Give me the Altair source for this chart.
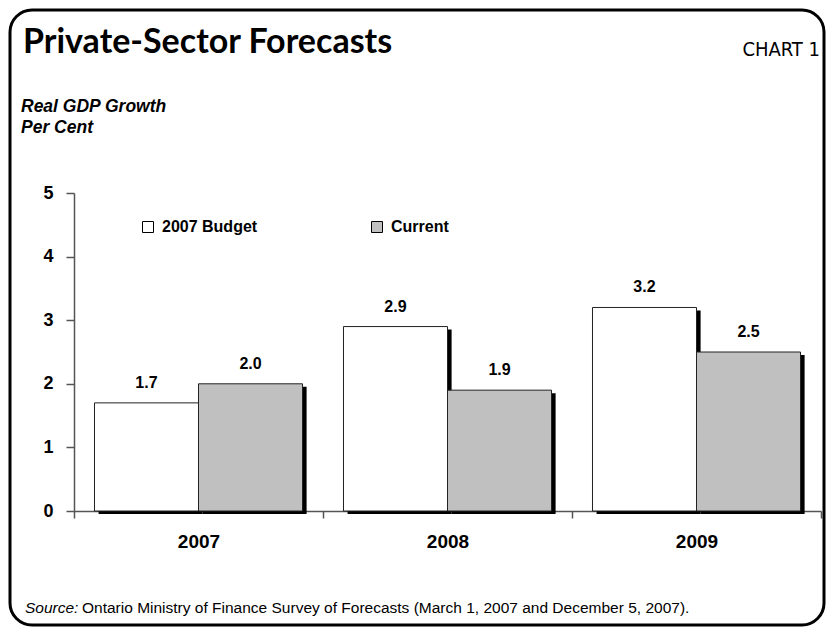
import altair as alt
import pandas as pd

# ---- data ----
years = ["2007", "2008", "2009"]
budget_2007 = [1.7, 2.9, 3.2]
current = [2.0, 1.9, 2.5]
series_names = ["2007 Budget", "Current"]
series_fills = ["white", "#C0C0C0"]
y_ticks = [0, 1, 2, 3, 4, 5]

title_text = ["Private-Sector Forecasts"]
chart_no = ["CHART 1"]
ylabel_lines = ["Real GDP Growth", "Per Cent"]
source_head = ["Source:"]
source_body = ["Ontario Ministry of Finance Survey of Forecasts (March 1, 2007 and December 5, 2007)."]

rows = []
for i, yr in enumerate(years):
    rows.append({"year": yr, "series": series_names[0], "value": budget_2007[i]})
    rows.append({"year": yr, "series": series_names[1], "value": current[i]})
df = pd.DataFrame(rows)

FONT = "Liberation Sans, Arial, sans-serif"

x_enc = alt.X("year:N", sort=years,
              scale=alt.Scale(type="band", paddingInner=0, paddingOuter=0),
              axis=alt.Axis(title=None, labelAngle=0, tickBand="extent", tickSize=7,
                            labelPadding=14, labelFont=FONT, labelFontSize=19,
                            labelFontWeight="bold", labelColor="black",
                            domainColor="#555", domainWidth=1.5,
                            tickColor="#555", tickWidth=1.5))
xo_enc = alt.XOffset("series:N", sort=series_names,
                     scale=alt.Scale(type="band", paddingInner=0, paddingOuter=0.197))
# shadow offset scale: same step, shifted right by a few pixels via align
xo_shadow = alt.XOffset("series:N", sort=series_names,
                        scale=alt.Scale(type="band", paddingInner=0, paddingOuter=0.197, align=0.6))
y_enc = alt.Y("value:Q", scale=alt.Scale(domain=[0, 5], nice=False),
              axis=alt.Axis(title=None, values=y_ticks, tickSize=8, labelPadding=13,
                            labelFont=FONT, labelFontSize=18, labelFontWeight="bold",
                            labelColor="black", domainColor="#555", domainWidth=1.5,
                            tickColor="#555", tickWidth=1.5, grid=False))

base = alt.Chart(df)

shadow = base.mark_bar(color="black", yOffset=3).encode(
    x=x_enc, xOffset=xo_shadow, y=y_enc)

bars = base.mark_bar(stroke="#222", strokeWidth=1).encode(
    x=x_enc, xOffset=xo_enc, y=y_enc,
    fill=alt.Fill("series:N", sort=series_names,
                  scale=alt.Scale(domain=series_names, range=series_fills),
                  legend=alt.Legend(title=None, orient="none", legendX=66, legendY=26,
                                    direction="horizontal", symbolType="square",
                                    symbolSize=121, symbolStrokeColor="black",
                                    symbolStrokeWidth=1, labelFont=FONT,
                                    labelFontSize=16, labelFontWeight="bold",
                                    labelColor="black", labelOffset=6,
                                    columnPadding=111)))

labels = base.mark_text(font=FONT, fontSize=16, fontWeight="bold", baseline="alphabetic",
                        dy=-15, color="black").encode(
    x=x_enc, xOffset=xo_enc, y=y_enc, text=alt.Text("value:Q", format=".1f"))

frame = alt.Chart(pd.DataFrame({"k": [0]})).mark_rect(
    fill="transparent", stroke="black", strokeWidth=3, cornerRadius=22).encode(
    x=alt.value(-64), x2=alt.value(750), y=alt.value(-183), y2=alt.value(432))

title = alt.Chart(pd.DataFrame({"t": title_text})).mark_text(
    font="Lato, sans-serif", fontSize=34, fontWeight="bold", align="left",
    baseline="alphabetic", color="black").encode(
    text="t:N", x=alt.value(-51), y=alt.value(-140))

chartno = alt.Chart(pd.DataFrame({"t": chart_no})).mark_text(
    font="DejaVu Sans Condensed, Liberation Sans Narrow, sans-serif", fontSize=20,
    align="right", baseline="alphabetic", color="black").encode(
    text="t:N", x=alt.value(746), y=alt.value(-137))

ylab1 = alt.Chart(pd.DataFrame({"t": ylabel_lines[:1]})).mark_text(
    font=FONT, fontSize=17.5, fontWeight="bold", fontStyle="italic", align="left",
    baseline="alphabetic", color="black").encode(
    text="t:N", x=alt.value(-53), y=alt.value(-81))
ylab2 = alt.Chart(pd.DataFrame({"t": ylabel_lines[1:]})).mark_text(
    font=FONT, fontSize=17.5, fontWeight="bold", fontStyle="italic", align="left",
    baseline="alphabetic", color="black").encode(
    text="t:N", x=alt.value(-53), y=alt.value(-60))

src1 = alt.Chart(pd.DataFrame({"t": source_head})).mark_text(
    font=FONT, fontSize=15.5, fontStyle="italic", align="left",
    baseline="alphabetic", color="black").encode(
    text="t:N", x=alt.value(-49), y=alt.value(420))
src2 = alt.Chart(pd.DataFrame({"t": source_body})).mark_text(
    font=FONT, fontSize=15.5, align="left",
    baseline="alphabetic", color="black").encode(
    text="t:N", x=alt.value(8), y=alt.value(420))

chart = alt.layer(frame, shadow, bars, labels, title, chartno, ylab1, ylab2, src1, src2).resolve_scale(
    xOffset="independent"
).properties(
    width=747, height=318,
    autosize=alt.AutoSizeParams(type="none"),
    padding={"left": 66, "top": 185, "right": 5, "bottom": 116},
).configure_view(stroke=None)

chart.save("out.html", embed_options={"renderer": "svg", "actions": False})
